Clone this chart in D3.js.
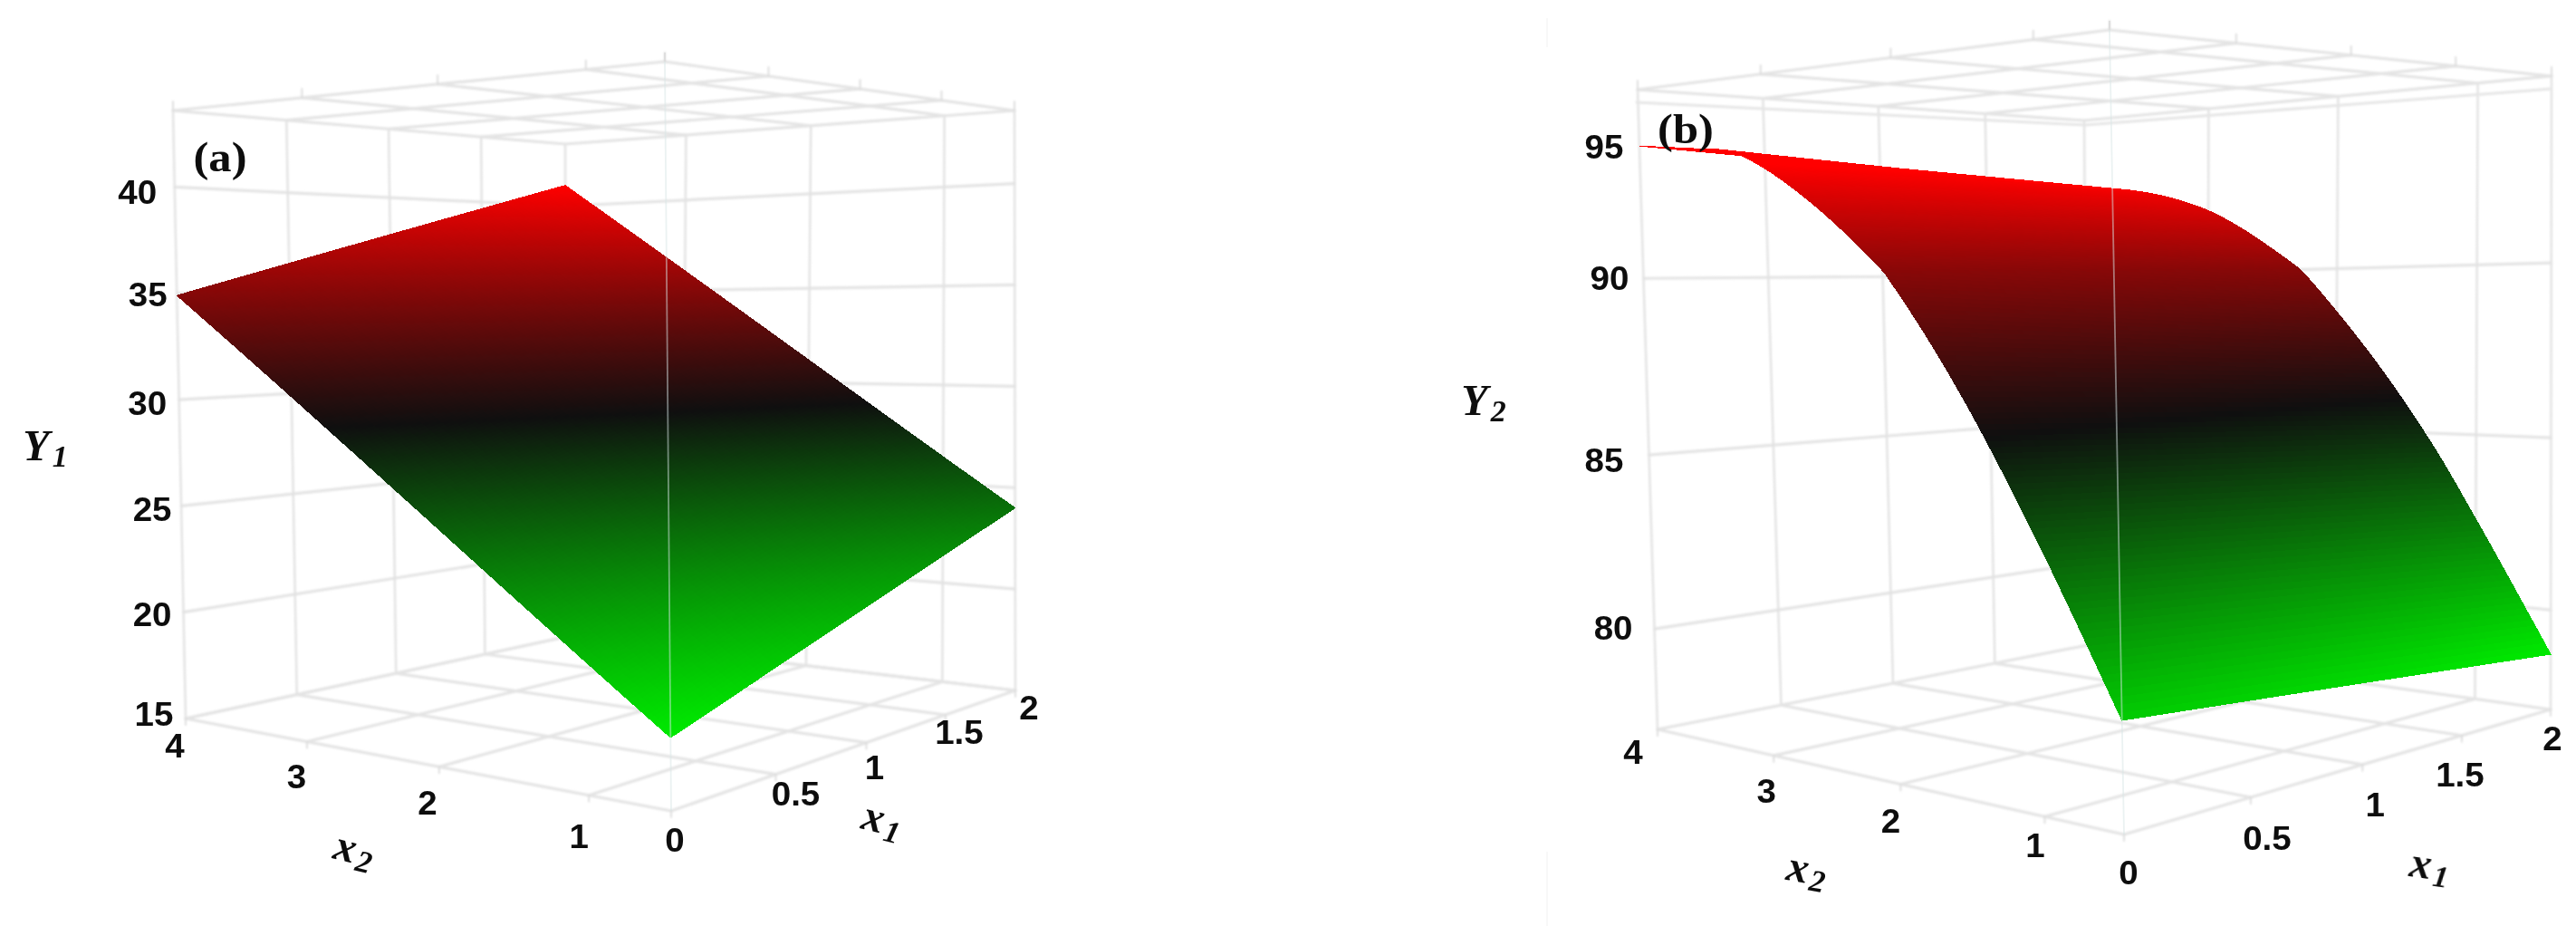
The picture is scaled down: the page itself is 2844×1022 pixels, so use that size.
<!DOCTYPE html>
<html>
<head>
<meta charset="utf-8">
<style>
  html, body { margin: 0; padding: 0; background: #fff; }
  svg { display: block; }
</style>
<script src="https://cdn.jsdelivr.net/npm/d3@7/dist/d3.min.js"></script>
</head>
<body>
<div id="chart"></div>
<script>
// ---------- Data ----------
const x1Ticks = [0, 0.5, 1, 1.5, 2];
const x2Ticks = [0, 1, 2, 3, 4];
const x1Columns = [0, 1, 2];

const y1Ticks = [15, 20, 25, 30, 35, 40];
const y1Rows = [0, 1, 2, 3, 4];                 // x2 position of each row
const y1AtX1_0 = [17.8, 20.16, 24.95, 29.8, 34.9];
const y1AtX1_1 = [20.9, 23.27, 28.07, 32.94, 38.05];
const y1AtX1_2 = [24.0, 26.37, 31.19, 36.07, 41.2];

const y2GridTicks = [80, 85, 90];
const y2Ticks = [80, 85, 90, 95];
const y2Rows = [0, 0.25, 0.5, 0.75, 1, 1.25, 1.5, 1.75, 2, 2.25, 2.5, 2.75, 3, 3.25, 3.5, 3.75, 4];
const y2AtX1_0 = [79.72, 80.68, 81.63, 82.56, 83.47, 85.22, 86.84, 88.31, 89.64, 90.87, 91.99, 92.98, 93.83, 94.49, 94.68, 94.84, 95.0];
const y2AtX1_1 = [79.22, 80.18, 81.13, 82.06, 82.98, 84.76, 86.37, 87.83, 89.15, 90.38, 91.46, 92.44, 93.25, 93.87, 94.16, 94.37, 94.52];
const y2AtX1_2 = [78.71, 79.67, 80.62, 81.56, 82.48, 84.3, 85.9, 87.34, 88.65, 89.88, 90.93, 91.89, 92.67, 93.24, 93.64, 93.89, 94.03];

// ---------- Layout (not data) ----------
const W = 2844, H = 1022;
const x1Frac = d3.scaleLinear().domain([0, 2]).range([0, 1]);
const x2Frac = d3.scaleLinear().domain(x2Ticks).range([0, 0.138, 0.418, 0.702, 1]);

const panels = [
  {
    name: "a",
    floor: { A: [741, 895], B: [1121, 762], C: [205, 793], D: [624, 703] },
    top:   { A: [734, 68],  B: [1120, 122], C: [191, 122], D: [624, 159] },
    yFrac: d3.scaleLinear().domain([15, 43.6]).range([0, 1]),
    gridTicks: y1Ticks, labelTicks: y1Ticks,
    rows: y1Rows, columns: [y1AtX1_0, y1AtX1_1, y1AtX1_2],
    color: d3.scaleLinear().domain([17.8, 29, 41.2]).range(["#00eb00", "#0f0f0f", "#ff0000"]).clamp(true),
    yOff: [[-35, -5], [-34.5, 2], [-32, 4], [-35, 4], [-32, 1], [-41, 5.5]],
    x2Off: [[4, 32], [-11, 45], [-13, 40], [-11.5, 38.5], [-12, 30]],
    x1Off: [null, [22, 21], [9, 27], [15, 19], [15, 19]],
    titles: { y: [50, 498, "Y", "1", 0], x2: [390, 943, "x", "2", 14], x1: [973, 910, "x", "1", 14] },
    tag: [243, 174, "(a)"],
    extraTop: null
  },
  {
    name: "b",
    floor: { A: [2345, 921], B: [2816, 783], C: [1830, 805], D: [2305, 712] },
    top:   { A: [2329, 33],  B: [2817, 84],  C: [1808, 99],  D: [2301, 133] },
    yFrac: d3.scaleLinear().domain([77.1, 80, 85, 90, 95, 96.4]).range([0, 0.157, 0.429, 0.705, 0.912, 1]),
    gridTicks: y2GridTicks, labelTicks: y2Ticks,
    rows: y2Rows, columns: [y2AtX1_0, y2AtX1_1, y2AtX1_2],
    color: d3.scaleLinear().domain([78.7, 86, 94]).range(["#00eb00", "#0f0f0f", "#ff0000"]).clamp(true),
    yOff: [[-45.5, -1], [-49.6, 6], [-37.5, 0], [-39, 1]],
    x2Off: [[5, 42], [-10.5, 31.5], [-11, 41], [-8, 39], [-27, 25]],
    x1Off: [null, [18, 45], [14, 44], [-2, 43], [2, 32]],
    titles: { y: [1638, 448, "Y", "2", 0], x2: [1994, 965, "x", "2", 10], x1: [2682, 960, "x", "1", 8] },
    tag: [1861, 143, "(b)"],
    extraTop: [[1807, 113], [2302, 138], [2817, 98]]
  }
];

const svg = d3.select("#chart").append("svg").attr("width", W).attr("height", H).attr("viewBox", `0 0 ${W} ${H}`);
const defs = svg.append("defs");
defs.append("filter").attr("id", "soft").attr("filterUnits", "userSpaceOnUse")
  .attr("x", 0).attr("y", 0).attr("width", W).attr("height", H)
  .append("feGaussianBlur").attr("stdDeviation", 0.8);
defs.append("filter").attr("id", "softText").attr("filterUnits", "userSpaceOnUse")
  .attr("x", 0).attr("y", 0).attr("width", W).attr("height", H)
  .append("feGaussianBlur").attr("stdDeviation", 0.6);

svg.append("rect").attr("width", W).attr("height", H).attr("fill", "#fff");

// faint panel divider
svg.selectAll("line.divider").data([[20, 52], [940, 1022]]).join("line").attr("class", "divider")
  .attr("x1", 1708).attr("x2", 1708).attr("y1", d => d[0]).attr("y2", d => d[1])
  .attr("stroke", "#f6f6f6").attr("stroke-width", 1.5);

const lerp = (a, b, t) => a + (b - a) * t;

// projective map of the unit square onto a corner quadrilateral
function homography({ A, B, C, D }) {
  const det = (p, q) => p[0] * q[1] - p[1] * q[0];
  const s = [A[0] - B[0] + D[0] - C[0], A[1] - B[1] + D[1] - C[1]];
  const d1 = [B[0] - D[0], B[1] - D[1]];
  const d2 = [C[0] - D[0], C[1] - D[1]];
  const den = det(d1, d2);
  const g = det(s, d2) / den, h = det(d1, s) / den;
  const a = [0, 1].map(i => B[i] - A[i] + g * B[i]);
  const b = [0, 1].map(i => C[i] - A[i] + h * C[i]);
  return (u, v) => {
    const w = g * u + h * v + 1;
    return [0, 1].map(i => (a[i] * u + b[i] * v + A[i]) / w);
  };
}

// smooth value along a column: Hermite through the rows, with chord tangents
function columnSpline(vs, ys) {
  const n = vs.length;
  const m = ys.map((_, i) => {
    const l = Math.max(0, i - 1), r = Math.min(n - 1, i + 1);
    return (ys[r] - ys[l]) / (vs[r] - vs[l]);
  });
  return (i, t) => {
    const h = vs[i + 1] - vs[i];
    const t2 = t * t, t3 = t2 * t;
    return (2 * t3 - 3 * t2 + 1) * ys[i] + (t3 - 2 * t2 + t) * h * m[i] +
      (-2 * t3 + 3 * t2) * ys[i + 1] + (t3 - t2) * h * m[i + 1];
  };
}

panels.forEach(p => {
  const floorMap = homography(p.floor), topMap = homography(p.top);
  const at = (u, v, w) => {
    const f = floorMap(u, v), t = topMap(u, v);
    return [lerp(f[0], t[0], w), lerp(f[1], t[1], w)];
  };
  const project = (x1, x2, y) => at(x1Frac(x1), x2Frac(x2), p.yFrac(y));
  const line = d3.line();
  const yDom = p.yFrac.domain();
  const yMax = yDom[yDom.length - 1], yMin = yDom[0];

  const g = svg.append("g").attr("class", "panel-" + p.name);
  const grid = g.append("g").attr("filter", "url(#soft)").attr("fill", "none");

  const drawLines = (data, stroke, width) => grid.append("g")
    .selectAll("path").data(data).join("path")
    .attr("d", line).attr("stroke", stroke).attr("stroke-width", width).attr("stroke-linecap", "round");

  // back walls: horizontal Y grid lines
  drawLines(p.gridTicks.map(t => [project(0, 4, t), project(2, 4, t), project(2, 0, t)]), "#e4e4e4", 3.2);

  // back walls: verticals
  const wallV = [
    ...x1Ticks.map(t => [project(t, 4, yMin), project(t, 4, yMax)]),
    ...x2Ticks.slice(0, -1).map(t => [project(2, t, yMin), project(2, t, yMax)])
  ];
  drawLines(wallV, "#e2e2e2", 2.4);

  // floor and ceiling grids
  [yMin, yMax].forEach(level => {
    const grp = [
      ...x1Ticks.map(t => [project(t, 0, level), project(t, 4, level)]),
      ...x2Ticks.map(t => [project(0, t, level), project(2, t, level)])
    ];
    drawLines(grp, "#e4e4e4", 3.2);
  });
  if (p.extraTop) drawLines([p.extraTop], "#e6e6e6", 3);

  // small tick stubs on the two front edges, above ceiling and below floor
  const stub = (pt, d) => [pt, [pt[0], pt[1] + d]];
  const stubs = [];
  x1Ticks.forEach(t => {
    stubs.push(stub(project(t, 0, yMax), -10));
    stubs.push(stub(project(t, 0, yMin), 7));
  });
  x2Ticks.slice(1).forEach(t => {
    stubs.push(stub(project(0, t, yMax), -10));
    stubs.push(stub(project(0, t, yMin), 7));
  });
  drawLines(stubs, "#dcdcdc", 1.8);

  // ---------- surface ----------
  const rowV = p.rows.map(x2Frac);
  const splines = p.columns.map(col => columnSpline(rowV, col));
  const quads = [];
  for (let r = 0; r < p.rows.length - 1; r++) {
    const v0 = rowV[r], v1 = rowV[r + 1];
    const nv = Math.max(3, Math.ceil((v1 - v0) * 170));
    for (let ci = 0; ci < x1Columns.length - 1; ci++) {
      const u0 = x1Frac(x1Columns[ci]), u1 = x1Frac(x1Columns[ci + 1]);
      const nu = Math.ceil((u1 - u0) * 90);
      for (let i = 0; i < nv; i++) {
        for (let j = 0; j < nu; j++) {
          const corner = (ii, jj) => {
            const tv = ii / nv, tu = jj / nu;
            const val = lerp(splines[ci](r, tv), splines[ci + 1](r, tv), tu);
            return { val, pt: at(lerp(u0, u1, tu), lerp(v0, v1, tv), p.yFrac(val)) };
          };
          const q = [corner(i, j), corner(i, j + 1), corner(i + 1, j + 1), corner(i + 1, j)];
          quads.push({ pts: q.map(d => d.pt), val: d3.mean(q, d => d.val) });
        }
      }
    }
  }
  g.append("g").attr("class", "surface").attr("shape-rendering", "crispEdges")
    .selectAll("path").data(quads).join("path")
    .attr("d", d => line(d.pts) + "Z")
    .attr("fill", d => p.color(d.val))
    .attr("stroke", d => p.color(d.val))
    .attr("stroke-width", 1);

  // front vertical edge, seen through the surface
  const front = [project(0, 0, yMin), project(0, 0, yMax)];
  g.append("path").attr("d", line(front)).attr("fill", "none")
    .attr("stroke", "#d8e6e6").attr("stroke-opacity", 0.5).attr("stroke-width", 1.8);
  g.append("path").attr("d", line([front[1], [front[1][0], front[1][1] - 10]])).attr("fill", "none")
    .attr("stroke", "#dddddd").attr("stroke-width", 1.8);

  // ---------- text ----------
  const text = g.append("g").attr("filter", "url(#softText)").attr("fill", "#0a0a0a");
  const tickLabel = (x, y, s) => text.append("text")
    .attr("transform", `translate(${x},${y}) scale(1.07,1)`)
    .attr("text-anchor", "middle").attr("dy", "0.36em")
    .attr("font-family", "'Liberation Sans', Arial, sans-serif")
    .attr("font-weight", 700).attr("font-size", 36)
    .text(s);

  p.labelTicks.forEach((t, i) => {
    const q = project(0, 4, t);
    tickLabel(q[0] + p.yOff[i][0], q[1] + p.yOff[i][1], String(t));
  });
  x2Ticks.forEach((t, i) => {
    const q = project(0, t, yMin);
    tickLabel(q[0] + p.x2Off[i][0], q[1] + p.x2Off[i][1], String(t));
  });
  x1Ticks.forEach((t, i) => {
    if (!p.x1Off[i]) return;
    const q = project(t, 0, yMin);
    tickLabel(q[0] + p.x1Off[i][0], q[1] + p.x1Off[i][1], String(t));
  });

  Object.values(p.titles).forEach(([x, y, main, sub, rot]) => {
    const t = text.append("text")
      .attr("transform", `translate(${x},${y}) rotate(${rot})`)
      .attr("text-anchor", "middle").attr("dy", "0.2em")
      .attr("font-family", "'Liberation Serif', 'DejaVu Serif', serif")
      .attr("font-weight", 700).attr("font-style", "italic").attr("font-size", 48);
    t.append("tspan").text(main);
    t.append("tspan").attr("font-size", 34).attr("dy", 7).attr("dx", 3).text(sub);
  });

  text.append("text")
    .attr("transform", `translate(${p.tag[0]},${p.tag[1]}) scale(1.1,1)`)
    .attr("text-anchor", "middle").attr("dy", "0.32em")
    .attr("font-family", "'Liberation Serif', serif").attr("font-weight", 700).attr("font-size", 46)
    .text(p.tag[2]);
});
</script>
</body>
</html>
